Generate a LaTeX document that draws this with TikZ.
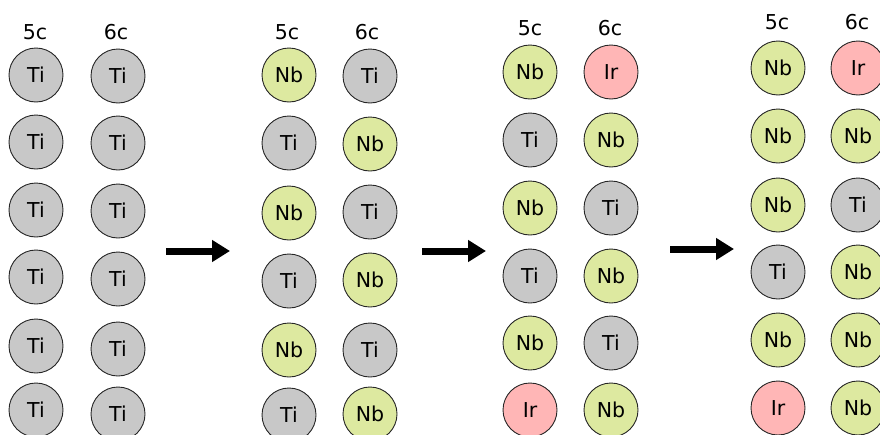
\documentclass[tikz,border=0pt]{standalone}
\usepackage{fontspec}
\setmainfont{DejaVu Sans}
\usetikzlibrary{arrows.meta}
\definecolor{tigray}{HTML}{C8C8C8}
\definecolor{nbgreen}{HTML}{DDE9A0}
\definecolor{irpink}{HTML}{FFB6B6}
\tikzset{
  atom/.style={circle, draw=black!85, line width=0.9pt, minimum size=54pt,
    inner sep=0pt, font=\fontsize{20.5}{24}\selectfont},
  Ti/.style={atom, fill=tigray},
  Nb/.style={atom, fill=nbgreen},
  Ir/.style={atom, fill=irpink},
  sitelabel/.style={font=\fontsize{20.5}{24}\selectfont, inner sep=0pt},
  bigarrow/.style={line width=7pt, -{Triangle[length=18pt,width=21pt]}},
}
\begin{document}
\begin{tikzpicture}[x=1pt,y=-1pt]
\useasboundingbox (0,0) rectangle (880,434);
\clip (0,0) rectangle (880,434);

% stage 1: all titanium
\node[sitelabel] (l1a) at (35,32) {5c};
\node[sitelabel] (l1b) at (116,32) {6c};
\foreach \el/\y [count=\i] in {Ti/75,Ti/142,Ti/210,Ti/277,Ti/346,Ti/410}
  \node[\el] (p1a\i) at (36,\y) {\el};
\foreach \el/\y [count=\i] in {Ti/76,Ti/143,Ti/211,Ti/279,Ti/349,Ti/414}
  \node[\el] (p1b\i) at (118,\y) {\el};

% stage 2: alternating Nb substitution
\node[sitelabel] (l2a) at (287,32) {5c};
\node[sitelabel] (l2b) at (367,32) {6c};
\foreach \el/\y [count=\i] in {Nb/75,Ti/143,Nb/213,Ti/281,Nb/350,Ti/415}
  \node[\el] (p2a\i) at (289,\y) {\el};
\foreach \el/\y [count=\i] in {Ti/76,Nb/144,Ti/212,Nb/280,Ti/350,Nb/414}
  \node[\el] (p2b\i) at (370,\y) {\el};

% stage 3: Ir at the ends
\node[sitelabel] (l3a) at (530,28) {5c};
\node[sitelabel] (l3b) at (610,28) {6c};
\foreach \el/\y [count=\i] in {Nb/72,Ti/140,Nb/208,Ti/276,Nb/343,Ir/410}
  \node[\el] (p3a\i) at (530,\y) {\el};
\foreach \el/\y [count=\i] in {Ir/72,Nb/140,Ti/208,Nb/276,Ti/343,Nb/410}
  \node[\el] (p3b\i) at (611,\y) {\el};

% stage 4
\node[sitelabel] (l4a) at (777,22) {5c};
\node[sitelabel] (l4b) at (857,22) {6c};
\foreach \el/\y [count=\i] in {Nb/68,Nb/136,Nb/205,Ti/272,Nb/340,Ir/408}
  \node[\el] (p4a\i) at (778,\y) {\el};
\foreach \el/\y [count=\i] in {Ir/68,Nb/136,Ti/205,Nb/272,Nb/340,Nb/408}
  \node[\el] (p4b\i) at (858,\y) {\el};

% arrows between stages
\coordinate (s1) at (166,251); \coordinate (e1) at (230,251);
\coordinate (s2) at (422,251); \coordinate (e2) at (486,251);
\coordinate (s3) at (670,249); \coordinate (e3) at (734,249);
\draw[bigarrow] (s1) -- (e1);
\draw[bigarrow] (s2) -- (e2);
\draw[bigarrow] (s3) -- (e3);
\end{tikzpicture}
\end{document}
